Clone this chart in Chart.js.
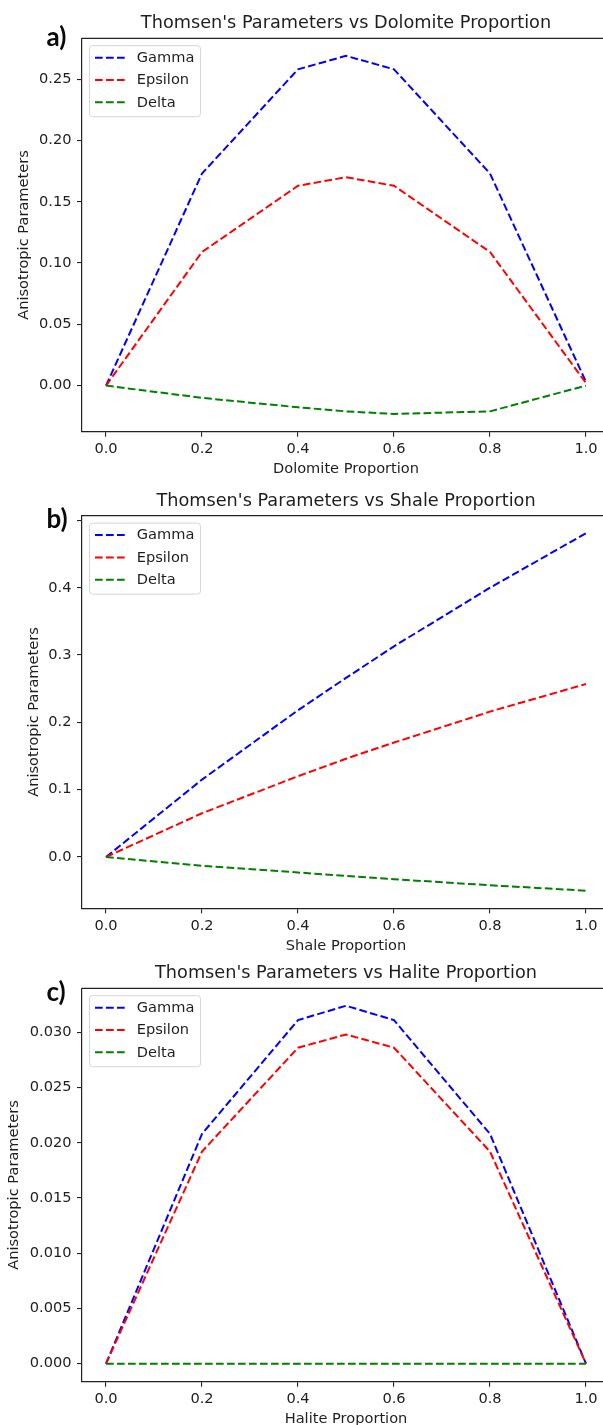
<!DOCTYPE html>
<html>
<head>
<meta charset="utf-8">
<script src="https://cdn.jsdelivr.net/npm/chart.js@4/dist/chart.umd.min.js"></script>
<style>
html,body{margin:0;padding:0;background:#fff;overflow:hidden;width:603px;height:1425px;}
.wrap{position:absolute;left:0;width:610px;}
canvas{display:block;}
</style>
</head>
<body>
<div class="wrap" id="w0" style="top:0px;height:477px;"><canvas id="c0"></canvas></div>
<div class="wrap" id="w1" style="top:477px;height:483px;"><canvas id="c1"></canvas></div>
<div class="wrap" id="w2" style="top:950px;height:475px;"><canvas id="c2"></canvas></div>
<script>
// ---- data ----
const proportions = [0, 0.2, 0.4, 0.5, 0.6, 0.8, 1.0];
const seriesNames = ['Gamma', 'Epsilon', 'Delta'];
const xTickValues = [0, 0.2, 0.4, 0.6, 0.8, 1.0];

const dolomiteGamma   = [0, 0.173, 0.258, 0.269, 0.258, 0.173, 0.003];
const dolomiteEpsilon = [0, 0.109, 0.163, 0.170, 0.163, 0.109, 0.002];
const dolomiteDelta   = [0, -0.010, -0.0177, -0.021, -0.0231, -0.021, 0];
const dolomiteYTicks  = [0, 0.05, 0.10, 0.15, 0.20, 0.25];

const shaleGamma   = [0, 0.115, 0.218, 0.266, 0.313, 0.400, 0.481];
const shaleEpsilon = [0, 0.065, 0.120, 0.146, 0.170, 0.216, 0.257];
const shaleDelta   = [0, -0.013, -0.023, -0.028, -0.033, -0.042, -0.050];
const shaleYTicks  = [0, 0.1, 0.2, 0.3, 0.4, 0.5];

const haliteGamma   = [0, 0.0208, 0.0311, 0.0324, 0.0311, 0.0208, 0];
const haliteEpsilon = [0, 0.0192, 0.0286, 0.0298, 0.0286, 0.0192, 0];
const haliteDelta   = [0, 0, 0, 0, 0, 0, 0];
const haliteYTicks  = [0, 0.005, 0.010, 0.015, 0.020, 0.025, 0.030];

const panelTitles = ["Thomsen's Parameters vs Dolomite Proportion",
                     "Thomsen's Parameters vs Shale Proportion",
                     "Thomsen's Parameters vs Halite Proportion"];
const xLabels = ['Dolomite Proportion', 'Shale Proportion', 'Halite Proportion'];
const yLabel = 'Anisotropic Parameters';
const panelLetters = ['a)', 'b)', 'c)'];

// ---- styling / layout ----
const colors = ['#0000ff', '#ff0000', '#008000'];
const DASH = [7.7, 3.3];
const TXT = '#1e1e1e';
const FONT = '"DejaVu Sans", sans-serif';
const FS = 14.6;

const panels = [
  {canvas:'c0', series:[dolomiteGamma, dolomiteEpsilon, dolomiteDelta], yTicks:dolomiteYTicks, dec:2,
   yMin:-0.0376, yMax:0.2833, padTop:38.3, padBottom:15.3, yLabelX:24, letterY:37.5},
  {canvas:'c1', series:[shaleGamma, shaleEpsilon, shaleDelta], yTicks:shaleYTicks, dec:1,
   yMin:-0.0762, yMax:0.507, padTop:38.7, padBottom:21.7, yLabelX:33.8, letterY:42.5},
  {canvas:'c2', series:[haliteGamma, haliteEpsilon, haliteDelta], yTicks:haliteYTicks, dec:3,
   yMin:-0.00163, yMax:0.03398, padTop:38.3, padBottom:13.3, yLabelX:14.6, letterY:42.5}
];

function decorPlugin(i){
  return {
    id:'decor'+i,
    afterDraw(chart){
      const ctx = chart.ctx, a = chart.chartArea;
      const cx = (a.left + a.right)/2;
      ctx.save();
      // top spine
      ctx.strokeStyle = '#222'; ctx.lineWidth = 1.2;
      ctx.beginPath(); ctx.moveTo(a.left, a.top); ctx.lineTo(a.right, a.top); ctx.stroke();
      // title
      ctx.fillStyle = TXT; ctx.textAlign = 'center'; ctx.textBaseline = 'middle';
      ctx.font = '17.7px ' + FONT;
      ctx.fillText(panelTitles[i], cx, a.top - 14.5);
      // x label
      ctx.font = FS + 'px ' + FONT;
      ctx.fillText(xLabels[i], cx, a.bottom + 37.5);
      // y label
      ctx.save();
      ctx.translate(panels[i].yLabelX, (a.top + a.bottom)/2);
      ctx.rotate(-Math.PI/2);
      ctx.fillText(yLabel, 0, 0);
      ctx.restore();
      // legend
      const lx = a.left + 7.5, ly = a.top + 7.4, lw = 111, lh = 71;
      ctx.beginPath();
      ctx.roundRect(lx, ly, lw, lh, 3);
      ctx.fillStyle = 'rgba(255,255,255,0.85)'; ctx.fill();
      ctx.strokeStyle = '#d6d6d6'; ctx.lineWidth = 1; ctx.stroke();
      const rows = [19.4, 41.7, 64];
      seriesNames.forEach((name, k) => {
        const y = a.top + rows[k];
        ctx.strokeStyle = colors[k]; ctx.lineWidth = 2; ctx.setLineDash(DASH);
        ctx.beginPath(); ctx.moveTo(a.left + 13, y); ctx.lineTo(a.left + 43.5, y); ctx.stroke();
        ctx.setLineDash([]);
        ctx.fillStyle = TXT; ctx.textAlign = 'left'; ctx.textBaseline = 'middle';
        ctx.font = FS + 'px ' + FONT;
        ctx.fillText(name, a.left + 54.7, y + 0.5);
      });
      // panel letter (with white backing)
      ctx.fillStyle = '#fff';
      ctx.fillRect(42, panels[i].letterY - 15, 33, 30);
      ctx.fillStyle = '#0a0a0a'; ctx.textAlign = 'left'; ctx.textBaseline = 'middle';
      ctx.font = 'bold 26px Lato, "Liberation Sans", sans-serif';
      ctx.fillText(panelLetters[i], 46.5, panels[i].letterY);
      ctx.restore();
    }
  };
}

panels.forEach((p, i) => {
  const datasets = p.series.map((vals, k) => ({
    label: seriesNames[k],
    data: proportions.map((x, j) => ({x: x, y: vals[j]})),
    borderColor: colors[k],
    borderWidth: 2,
    borderDash: DASH,
    pointRadius: 0,
    tension: 0,
    fill: false,
    order: 3 - k
  }));
  new Chart(document.getElementById(p.canvas), {
    type: 'line',
    data: {datasets},
    options: {
      responsive: true,
      maintainAspectRatio: false,
      animation: false,
      events: [],
      layout: {padding: {left: 0, right: 0, top: p.padTop, bottom: p.padBottom}},
      plugins: {legend: {display: false}, tooltip: {enabled: false}, title: {display: false}},
      scales: {
        x: {
          type: 'linear', min: -0.05, max: 1.05,
          afterBuildTicks(s){ s.ticks = xTickValues.map(v => ({value: v})); },
          afterFit(s){ s.height = 30; },
          grid: {drawOnChartArea: false, drawTicks: true, tickLength: 5, color: '#222', lineWidth: 1.1},
          border: {display: true, color: '#222', width: 1.2},
          ticks: {color: TXT, font: {family: 'DejaVu Sans', size: FS}, padding: 4, maxRotation: 0, autoSkip: false,
                  callback: v => Number(v).toFixed(1)}
        },
        y: {
          type: 'linear', min: p.yMin, max: p.yMax,
          afterBuildTicks(s){ s.ticks = p.yTicks.map(v => ({value: v})); },
          afterFit(s){ s.width = 82; },
          grid: {drawOnChartArea: false, drawTicks: true, tickLength: 5, color: '#222', lineWidth: 1.1},
          border: {display: true, color: '#222', width: 1.2},
          ticks: {color: TXT, font: {family: 'DejaVu Sans', size: FS}, padding: 5.5, autoSkip: false,
                  callback: v => Number(v).toFixed(p.dec)}
        }
      }
    },
    plugins: [decorPlugin(i)]
  });
});
</script>
</body>
</html>
